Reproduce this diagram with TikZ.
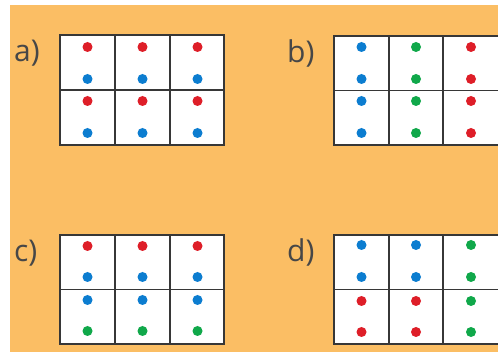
\documentclass[tikz,border=0pt]{standalone}
\usepackage{fontspec}
\setmainfont{Open Sans}
\definecolor{bgorange}{RGB}{251,190,100}
\definecolor{dotred}{RGB}{222,30,40}
\definecolor{dotblue}{RGB}{12,125,208}
\definecolor{dotgreen}{RGB}{16,168,74}
\definecolor{gridline}{RGB}{55,55,55}
\tikzset{
  label/.style={anchor=west,inner sep=0pt,text=black!72,font=\fontsize{30}{32}\selectfont},
  gridbox/.style={fill=white,draw=gridline,line width=1.4pt},
  gridsep/.style={draw=gridline,line width=1.4pt}
}

\begin{document}
\begin{tikzpicture}[x=1pt,y=-1pt]
\useasboundingbox (0,0) rectangle (498,352);
\clip (0,0) rectangle (498,352);
\fill[bgorange] (10,5) rectangle (498,352);

% a) red over blue everywhere
\node[label] (la) at (14,53) {a)};
\begin{scope}[shift={(60,35)}]
\draw[gridbox] (0,0) rectangle (164,110);
\draw[gridsep] (0,55) -- (164,55);
\foreach \x in {55,110} \draw[gridsep] (\x,0) -- (\x,110);
\foreach \x in {27.5,82.5,137.5} {
  \fill[dotred] (\x,12) circle (5);
  \fill[dotblue] (\x,44) circle (5);
  \fill[dotred] (\x,66) circle (5);
  \fill[dotblue] (\x,98) circle (5);
}
\end{scope}

% b) one colour per column
\node[label] (lb) at (287,53) {b)};
\begin{scope}[shift={(334,36)}]
\draw[gridbox] (0,0) rectangle (166,109);
\draw[gridsep] (0,54.5) -- (166,54.5);
\foreach \x in {55,109} \draw[gridsep] (\x,0) -- (\x,109);
\foreach \x/\col in {27.5/dotblue,82/dotgreen,137/dotred} {
  \foreach \y in {11,43,65,97} \fill[\col] (\x,\y) circle (5);
}
\end{scope}

% c) red/blue on top, blue/green below
\node[label] (lc) at (14,253) {c)};
\begin{scope}[shift={(60,235)}]
\draw[gridbox] (0,0) rectangle (164,109);
\draw[gridsep] (0,54.5) -- (164,54.5);
\foreach \x in {55,110} \draw[gridsep] (\x,0) -- (\x,109);
\foreach \x in {27.5,82.5,137.5} {
  \fill[dotred] (\x,11) circle (5);
  \fill[dotblue] (\x,42) circle (5);
  \fill[dotblue] (\x,65) circle (5);
  \fill[dotgreen] (\x,96) circle (5);
}
\end{scope}

% d) blue and red blocks, green column
\node[label] (ld) at (287,252) {d)};
\begin{scope}[shift={(334,235)}]
\draw[gridbox] (0,0) rectangle (166,109);
\draw[gridsep] (0,54.5) -- (166,54.5);
\foreach \x in {55,109} \draw[gridsep] (\x,0) -- (\x,109);
\foreach \x/\ctop/\cbot in {27.5/dotblue/dotred,82/dotblue/dotred,137/dotgreen/dotgreen} {
  \fill[\ctop] (\x,10) circle (5);
  \fill[\ctop] (\x,42) circle (5);
  \fill[\cbot] (\x,66) circle (5);
  \fill[\cbot] (\x,97) circle (5);
}
\end{scope}
\end{tikzpicture}
\end{document}
